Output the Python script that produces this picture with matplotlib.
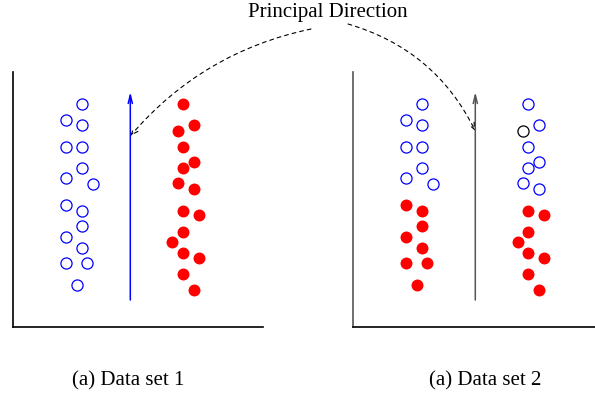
import matplotlib
matplotlib.use("Agg")
import matplotlib.pyplot as plt

plt.rcParams['font.family'] = ['Liberation Serif', 'DejaVu Serif']

# ---- data (panel units) ----
# Data set 1
blue1_x = [6.9, 5.3, 6.9, 5.3, 6.9, 6.9, 5.3, 8.0, 5.3, 6.9, 6.9, 5.3, 6.9, 5.3, 7.4, 6.4]
blue1_y = [22.3, 20.7, 20.2, 18.0, 18.0, 15.9, 14.9, 14.3, 12.2, 11.6, 10.1, 9.0, 7.9, 6.4, 6.4, 4.2]
red1_x = [17.0, 18.1, 16.5, 17.0, 18.1, 17.0, 16.5, 18.1, 17.0, 18.6, 17.0, 15.9, 17.0, 18.6, 17.0, 18.1]
red1_y = [22.3, 20.2, 19.6, 18.0, 16.5, 15.9, 14.4, 13.8, 11.6, 11.2, 9.5, 8.5, 7.4, 6.9, 5.3, 3.7]

# Data set 2
blue2_x = [6.9, 5.3, 6.9, 5.3, 6.9, 6.9, 5.3, 8.0,
           17.5, 18.6, 17.5, 18.6, 17.5, 17.0, 18.6]
blue2_y = [22.3, 20.7, 20.2, 18.0, 18.0, 15.9, 14.9, 14.3,
           22.3, 20.2, 18.0, 16.5, 15.9, 14.4, 13.8]
black2_x = [17.0]
black2_y = [19.6]
red2_x = [5.3, 6.9, 6.9, 5.3, 6.9, 5.3, 7.4, 6.4,
          17.5, 19.1, 17.5, 16.5, 17.5, 19.1, 17.5, 18.6]
red2_y = [12.2, 11.6, 10.1, 9.0, 7.9, 6.4, 6.4, 4.2,
          11.6, 11.2, 9.5, 8.5, 7.4, 6.9, 5.3, 3.7]

arrow1_x = 11.7
arrow2_x = 12.2
arrow_y = [2.7, 23.5]
pointer1_y = 19.1
pointer2_y = 19.6

title_text = "Principal Direction"
captions = ["(a) Data set 1", "(a) Data set 2"]

W, H = 595, 393
fig = plt.figure(figsize=(W / 100, H / 100), dpi=100)

ax1 = fig.add_axes([13.3 / W, (H - 327) / H, 250 / W, 255 / H])
ax2 = fig.add_axes([353.3 / W, (H - 327) / H, 241.7 / W, 255 / H])

for ax, xmax, col in [(ax1, 25.0, 'black'), (ax2, 24.17, '#555555')]:
    ax.set_xlim(0, xmax)
    ax.set_ylim(0, 25.5)
    ax.set_xticks([])
    ax.set_yticks([])
    for s in ['top', 'right']:
        ax.spines[s].set_visible(False)
    ax.spines['left'].set_color(col)
    ax.spines['bottom'].set_color('black')
    ax.spines['left'].set_linewidth(1.2)
    ax.spines['bottom'].set_linewidth(1.2)
    ax.patch.set_alpha(0)

ms_o = 8.0
ms_f = 8.6
ax1.plot(blue1_x, blue1_y, 'o', ms=ms_o, mfc='none', mec='blue', mew=0.9, clip_on=False)
ax1.plot(red1_x, red1_y, 'o', ms=ms_f, mfc='red', mec='red', mew=0, clip_on=False)
ax2.plot(blue2_x, blue2_y, 'o', ms=ms_o, mfc='none', mec='blue', mew=0.9, clip_on=False)
ax2.plot(black2_x, black2_y, 'o', ms=ms_o, mfc='none', mec='black', mew=0.9, clip_on=False)
ax2.plot(red2_x, red2_y, 'o', ms=ms_f, mfc='red', mec='red', mew=0, clip_on=False)

ax1.annotate('', xy=(arrow1_x, arrow_y[1]), xytext=(arrow1_x, arrow_y[0]),
             arrowprops=dict(arrowstyle='->,head_length=0.6,head_width=0.15',
                             color='blue', lw=1.1, shrinkA=0, shrinkB=0))
ax2.annotate('', xy=(arrow2_x, arrow_y[1]), xytext=(arrow2_x, arrow_y[0]),
             arrowprops=dict(arrowstyle='->,head_length=0.6,head_width=0.15',
                             color='#555555', lw=1.1, shrinkA=0, shrinkB=0))

fig.text(328 / W, (H - 13) / H, title_text, ha='center', va='center', fontsize=15)

dash = dict(arrowstyle='->,head_length=0.5,head_width=0.2', color='black', lw=0.8,
            linestyle=(0, (3.5, 3.5)), shrinkA=0, shrinkB=0)
ax1.annotate('', xy=(arrow1_x, pointer1_y), xycoords='data',
             xytext=(311, H - 29), textcoords='figure pixels',
             arrowprops=dict(dash, connectionstyle='arc3,rad=0.17'))
ax2.annotate('', xy=(arrow2_x, pointer2_y), xycoords='data',
             xytext=(348, H - 24), textcoords='figure pixels',
             arrowprops=dict(dash, connectionstyle='arc3,rad=-0.22'))

fig.text(128 / W, (H - 381) / H, captions[0], ha='center', va='center', fontsize=15)
fig.text(485 / W, (H - 381) / H, captions[1], ha='center', va='center', fontsize=15)

fig.savefig('out.png', dpi=100)
